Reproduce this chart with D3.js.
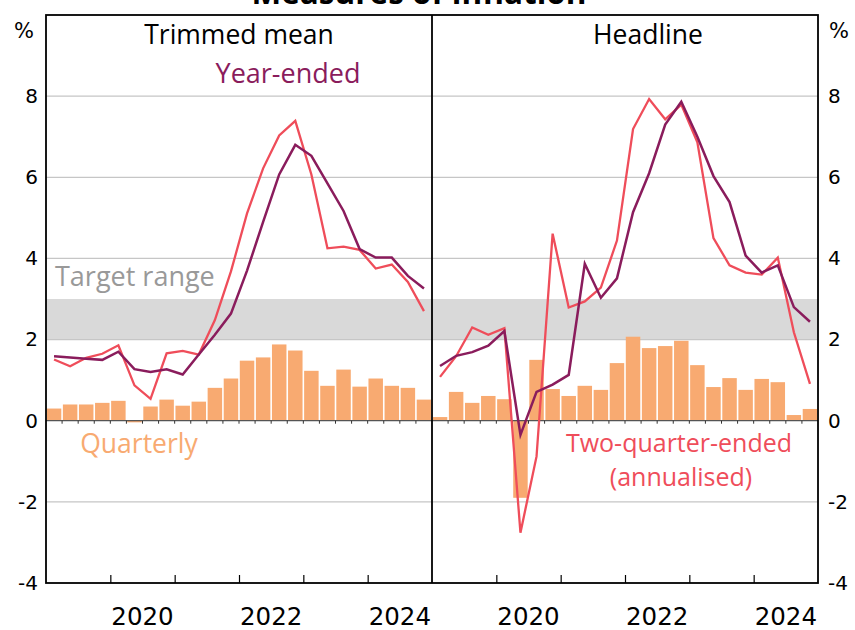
<!DOCTYPE html>
<html>
<head>
<meta charset="utf-8">
<script src="https://cdn.jsdelivr.net/npm/d3@7"></script>
<style>
  body { margin: 0; background: #fff; }
  svg { display: block; font-family: "Open Sans", Lato, sans-serif; }
  .num { font-family: "DejaVu Sans", sans-serif; }
</style>
</head>
<body>
<svg id="chart" width="855" height="630"></svg>
<script>
// quarters 2019 Q1 .. 2024 Q4
const quarters = d3.range(24).map((i) => `${2019 + Math.floor(i / 4)}-Q${(i % 4) + 1}`)

// trimmed mean
const tmQuarterly = [0.30, 0.40, 0.40, 0.44, 0.49, -0.04, 0.35, 0.52, 0.37, 0.47, 0.81, 1.04,
  1.48, 1.56, 1.88, 1.73, 1.23, 0.86, 1.26, 0.84, 1.04, 0.86, 0.81, 0.52]
const tmYearEnded = [1.59, 1.56, 1.53, 1.50, 1.70, 1.27, 1.20, 1.27, 1.14, 1.63, 2.12, 2.64,
  3.70, 4.90, 6.07, 6.80, 6.53, 5.85, 5.17, 4.23, 4.02, 4.02, 3.57, 3.26]
const tmTwoQuarter = [1.51, 1.34, 1.55, 1.65, 1.86, 0.87, 0.54, 1.66, 1.72, 1.63, 2.48, 3.68,
  5.11, 6.22, 7.03, 7.39, 6.07, 4.25, 4.29, 4.21, 3.75, 3.85, 3.42, 2.70]

// headline
const hlQuarterly = [0.09, 0.71, 0.44, 0.61, 0.53, -1.90, 1.50, 0.78, 0.61, 0.86, 0.76, 1.42,
  2.07, 1.79, 1.84, 1.97, 1.37, 0.83, 1.05, 0.76, 1.03, 0.95, 0.14, 0.29]
const hlYearEnded = [1.35, 1.60, 1.69, 1.85, 2.21, -0.35, 0.71, 0.89, 1.13, 3.87, 3.03, 3.51,
  5.14, 6.10, 7.30, 7.86, 7.00, 6.03, 5.39, 4.07, 3.65, 3.83, 2.80, 2.44]
const hlTwoQuarter = [1.08, 1.59, 2.30, 2.12, 2.28, -2.76, -0.88, 4.61, 2.79, 2.94, 3.28, 4.44,
  7.19, 7.93, 7.43, 7.79, 6.86, 4.50, 3.83, 3.65, 3.60, 4.02, 2.18, 0.91]

const yTicks = [-4, -2, 0, 2, 4, 6, 8]
const gridValues = [-2, 2, 4, 6, 8]
const yearTicks = [2020, 2021, 2022, 2023, 2024]
const yearLabels = [2020, 2022, 2024]
const targetRange = [2, 3]

const colors = {
  bar: "#f8aa71",
  yearEnded: "#8a1c5c",
  twoQuarter: "#ef4d5a",
  band: "#d9d9d9",
  grid: "#c6c6c6",
}

const svg = d3.select("#chart")
const plotTop = 15
const plotBottom = 583
const plotLeft = 46
const panelWidth = 386

const y = d3.scaleLinear().domain([-4, 10]).range([plotBottom, plotTop])

const panels = [
  { title: "Trimmed mean", titleX: 239, x0: plotLeft, bars: tmQuarterly, ye: tmYearEnded, tq: tmTwoQuarter },
  { title: "Headline", titleX: 648, x0: plotLeft + panelWidth, bars: hlQuarterly, ye: hlYearEnded, tq: hlTwoQuarter },
]

// title, cut off at the top edge like the source
svg.append("text")
  .attr("x", 419).attr("y", 4)
  .attr("text-anchor", "middle")
  .attr("font-size", 31.5).attr("font-weight", 700)
  .text("Measures of inflation")

panels.forEach((p) => {
  const x = d3.scaleLinear().domain([2019, 2025]).range([p.x0, p.x0 + panelWidth])
  const qx = (i) => x(2019 + (i + 0.5) / 4)
  const qw = x(2019.25) - x(2019)
  const g = svg.append("g")

  // target band
  g.append("rect")
    .attr("x", x(2019)).attr("width", panelWidth)
    .attr("y", y(targetRange[1])).attr("height", y(targetRange[0]) - y(targetRange[1]))
    .attr("fill", colors.band)

  g.selectAll(".grid")
    .data(gridValues)
    .enter()
    .append("line")
    .attr("x1", x(2019)).attr("x2", x(2025))
    .attr("y1", (d) => y(d)).attr("y2", (d) => y(d))
    .attr("stroke", colors.grid).attr("stroke-width", 1.3)

  g.selectAll(".bar")
    .data(p.bars)
    .enter()
    .append("rect")
    .attr("x", (d, i) => qx(i) - qw / 2 + 0.8)
    .attr("width", qw - 1.6)
    .attr("y", (d) => y(Math.max(0, d)))
    .attr("height", (d) => Math.abs(y(d) - y(0)))
    .attr("fill", colors.bar)

  // zero line with quarterly ticks
  g.append("line")
    .attr("x1", x(2019)).attr("x2", x(2025))
    .attr("y1", y(0)).attr("y2", y(0))
    .attr("stroke", "#555").attr("stroke-width", 1.2)
  g.selectAll(".qtick")
    .data(d3.range(1, 24))
    .enter()
    .append("line")
    .attr("x1", (d) => x(2019 + d / 4)).attr("x2", (d) => x(2019 + d / 4))
    .attr("y1", y(0)).attr("y2", y(0) + 3)
    .attr("stroke", "#333").attr("stroke-width", 1)

  const line = d3.line().x((d, i) => qx(i)).y((d) => y(d))
  g.append("path").datum(p.tq)
    .attr("d", line).attr("fill", "none")
    .attr("stroke", colors.twoQuarter).attr("stroke-width", 2.3)
  g.append("path").datum(p.ye)
    .attr("d", line).attr("fill", "none")
    .attr("stroke", colors.yearEnded).attr("stroke-width", 2.5)

  // bottom axis: yearly ticks pointing in, labels mid-year
  const axis = g.append("g").attr("transform", `translate(0,${plotBottom})`)
    .call(d3.axisBottom(x).tickValues(yearTicks).tickSizeInner(-8).tickSizeOuter(0).tickFormat(""))
  axis.select(".domain").remove()
  axis.selectAll(".tick line").attr("stroke", "#000").attr("stroke-width", 1.2)

  g.selectAll(".yearlabel")
    .data(yearLabels)
    .enter()
    .append("text")
    .attr("class", "num")
    .attr("x", (d) => x(d + 0.5)).attr("y", 625)
    .attr("text-anchor", "middle").attr("font-size", 24.5)
    .text((d) => d)

  g.append("text")
    .attr("x", p.titleX).attr("y", 44)
    .attr("text-anchor", "middle").attr("font-size", 26.5)
    .text(p.title)
})

// frame
svg.append("rect")
  .attr("x", plotLeft).attr("y", plotTop)
  .attr("width", panelWidth * 2).attr("height", plotBottom - plotTop)
  .attr("fill", "none").attr("stroke", "#000").attr("stroke-width", 1.8)
svg.append("line")
  .attr("x1", plotLeft + panelWidth).attr("x2", plotLeft + panelWidth)
  .attr("y1", plotTop).attr("y2", plotBottom)
  .attr("stroke", "#000").attr("stroke-width", 1.8)

// y axes on both sides, plain hyphen for negatives
const yFormat = (d) => String(d)
const yLeft = svg.append("g").attr("transform", `translate(${plotLeft},0)`)
  .call(d3.axisLeft(y).tickValues(yTicks).tickFormat(yFormat).tickSize(0).tickPadding(8))
const yRight = svg.append("g").attr("transform", `translate(${plotLeft + panelWidth * 2},0)`)
  .call(d3.axisRight(y).tickValues(yTicks).tickFormat(yFormat).tickSize(0).tickPadding(10))
;[yLeft, yRight].forEach((a) => {
  a.select(".domain").remove()
  a.selectAll("text").attr("font-size", 20).attr("font-family", "'DejaVu Sans', sans-serif").attr("fill", "#000")
})
svg.append("text").attr("class", "num").attr("x", 24).attr("y", 38).attr("text-anchor", "middle").attr("font-size", 21).text("%")
svg.append("text").attr("class", "num").attr("x", 839).attr("y", 38).attr("text-anchor", "middle").attr("font-size", 21).text("%")

// annotations
svg.append("text").attr("x", 288).attr("y", 83).attr("text-anchor", "middle")
  .attr("font-size", 27).attr("fill", colors.yearEnded).text("Year-ended")
svg.append("text").attr("x", 55).attr("y", 286)
  .attr("font-size", 27).attr("fill", "#999").text("Target range")
svg.append("text").attr("x", 139).attr("y", 453).attr("text-anchor", "middle")
  .attr("font-size", 26.5).attr("fill", colors.bar).text("Quarterly")
svg.append("text").attr("x", 679).attr("y", 452).attr("text-anchor", "middle")
  .attr("font-size", 25).attr("fill", colors.twoQuarter).text("Two-quarter-ended")
svg.append("text").attr("x", 681).attr("y", 486).attr("text-anchor", "middle")
  .attr("font-size", 25).attr("fill", colors.twoQuarter).text("(annualised)")
</script>
</body>
</html>
